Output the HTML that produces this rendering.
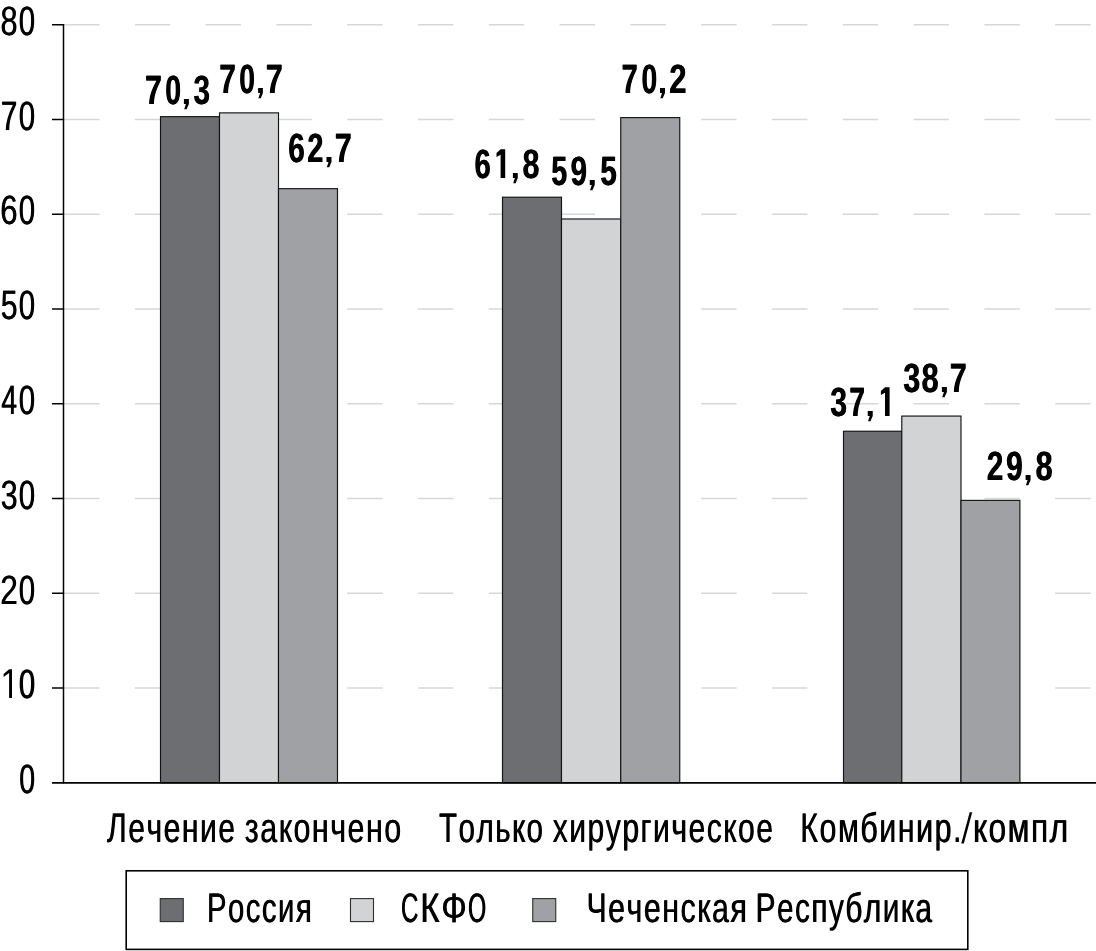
<!DOCTYPE html>
<html><head><meta charset="utf-8"><title>chart</title>
<style>
html,body{margin:0;padding:0;background:#fff;}
body{width:1096px;height:951px;overflow:hidden;}
svg{display:block;}
text{font-family:"Liberation Sans",sans-serif;font-kerning:none;text-rendering:geometricPrecision;}
</style></head><body>
<svg width="1096" height="951" viewBox="0 0 1096 951">
<rect width="1096" height="951" fill="#fff"/>
<g opacity="0.999">
<line x1="64" x2="1096" y1="688.00" y2="688.00" stroke="#d6d7d9" stroke-width="1.4" stroke-dasharray="35.4 35.4"/>
<line x1="64" x2="1096" y1="593.25" y2="593.25" stroke="#d6d7d9" stroke-width="1.4" stroke-dasharray="35.4 35.4"/>
<line x1="64" x2="1096" y1="498.50" y2="498.50" stroke="#d6d7d9" stroke-width="1.4" stroke-dasharray="35.4 35.4"/>
<line x1="64" x2="1096" y1="403.75" y2="403.75" stroke="#d6d7d9" stroke-width="1.4" stroke-dasharray="35.4 35.4"/>
<line x1="64" x2="1096" y1="309.00" y2="309.00" stroke="#d6d7d9" stroke-width="1.4" stroke-dasharray="35.4 35.4"/>
<line x1="64" x2="1096" y1="214.25" y2="214.25" stroke="#d6d7d9" stroke-width="1.4" stroke-dasharray="35.4 35.4"/>
<line x1="64" x2="1096" y1="119.50" y2="119.50" stroke="#d6d7d9" stroke-width="1.4" stroke-dasharray="35.4 35.4"/>
<line x1="64" x2="1096" y1="24.75" y2="24.75" stroke="#d6d7d9" stroke-width="1.4" stroke-dasharray="35.4 35.4"/>
<rect x="160.50" y="116.66" width="59.00" height="666.09" fill="#6d6e71" stroke="#141414" stroke-width="1.15"/>
<rect x="219.50" y="112.87" width="59.00" height="669.88" fill="#d1d3d4" stroke="#141414" stroke-width="1.15"/>
<rect x="278.50" y="188.67" width="59.00" height="594.08" fill="#a0a1a4" stroke="#141414" stroke-width="1.15"/>
<rect x="502.50" y="197.20" width="59.00" height="585.55" fill="#6d6e71" stroke="#141414" stroke-width="1.15"/>
<rect x="561.50" y="218.99" width="59.25" height="563.76" fill="#d1d3d4" stroke="#141414" stroke-width="1.15"/>
<rect x="620.75" y="117.61" width="59.00" height="665.14" fill="#a0a1a4" stroke="#141414" stroke-width="1.15"/>
<rect x="843.50" y="431.23" width="58.30" height="351.52" fill="#6d6e71" stroke="#141414" stroke-width="1.15"/>
<rect x="901.80" y="416.07" width="59.20" height="366.68" fill="#d1d3d4" stroke="#141414" stroke-width="1.15"/>
<rect x="961.00" y="500.39" width="58.90" height="282.36" fill="#a0a1a4" stroke="#141414" stroke-width="1.15"/>
<line x1="63.5" x2="63.5" y1="24" y2="783.55" stroke="#000" stroke-width="1.5"/>
<line x1="52" x2="1096" y1="782.90" y2="782.90" stroke="#000" stroke-width="1.8"/>
<line x1="52" x2="63.5" y1="688.00" y2="688.00" stroke="#000" stroke-width="1.5"/>
<line x1="52" x2="63.5" y1="593.25" y2="593.25" stroke="#000" stroke-width="1.5"/>
<line x1="52" x2="63.5" y1="498.50" y2="498.50" stroke="#000" stroke-width="1.5"/>
<line x1="52" x2="63.5" y1="403.75" y2="403.75" stroke="#000" stroke-width="1.5"/>
<line x1="52" x2="63.5" y1="309.00" y2="309.00" stroke="#000" stroke-width="1.5"/>
<line x1="52" x2="63.5" y1="214.25" y2="214.25" stroke="#000" stroke-width="1.5"/>
<line x1="52" x2="63.5" y1="119.50" y2="119.50" stroke="#000" stroke-width="1.5"/>
<line x1="52" x2="63.5" y1="24.75" y2="24.75" stroke="#000" stroke-width="1.5"/>
<text transform="translate(18.89 793.00) scale(0.6939 1)" font-size="41.00" font-weight="normal" fill="#000">0</text>
<text transform="translate(19.49 793.00) scale(0.6939 1)" font-size="41.00" font-weight="normal" fill="#000">0</text>
<path d="M12.00 669.30L12.00 698.00L9.10 698.00L9.10 672.90L3.60 676.90L3.60 673.90L9.10 669.30Z" fill="#000"/>
<text transform="translate(18.56 698.00) scale(0.7143 1)" font-size="41.00" font-weight="normal" fill="#000">0</text>
<text transform="translate(19.16 698.00) scale(0.7143 1)" font-size="41.00" font-weight="normal" fill="#000">0</text>
<text transform="translate(0.01 604.00) scale(0.7710 1)" font-size="41.00" font-weight="normal" fill="#000">2</text>
<text transform="translate(0.61 604.00) scale(0.7710 1)" font-size="41.00" font-weight="normal" fill="#000">2</text>
<text transform="translate(18.45 604.00) scale(0.7169 1)" font-size="41.00" font-weight="normal" fill="#000">0</text>
<text transform="translate(19.05 604.00) scale(0.7169 1)" font-size="41.00" font-weight="normal" fill="#000">0</text>
<text transform="translate(0.44 509.00) scale(0.7408 1)" font-size="41.00" font-weight="normal" fill="#000">3</text>
<text transform="translate(1.04 509.00) scale(0.7408 1)" font-size="41.00" font-weight="normal" fill="#000">3</text>
<text transform="translate(18.45 509.00) scale(0.7169 1)" font-size="41.00" font-weight="normal" fill="#000">0</text>
<text transform="translate(19.05 509.00) scale(0.7169 1)" font-size="41.00" font-weight="normal" fill="#000">0</text>
<text transform="translate(0.94 414.00) scale(0.6970 1)" font-size="41.00" font-weight="normal" fill="#000">4</text>
<text transform="translate(1.54 414.00) scale(0.6970 1)" font-size="41.00" font-weight="normal" fill="#000">4</text>
<text transform="translate(18.45 414.00) scale(0.7169 1)" font-size="41.00" font-weight="normal" fill="#000">0</text>
<text transform="translate(19.05 414.00) scale(0.7169 1)" font-size="41.00" font-weight="normal" fill="#000">0</text>
<text transform="translate(0.38 319.00) scale(0.7408 1)" font-size="41.00" font-weight="normal" fill="#000">5</text>
<text transform="translate(0.98 319.00) scale(0.7408 1)" font-size="41.00" font-weight="normal" fill="#000">5</text>
<text transform="translate(18.45 319.00) scale(0.7169 1)" font-size="41.00" font-weight="normal" fill="#000">0</text>
<text transform="translate(19.05 319.00) scale(0.7169 1)" font-size="41.00" font-weight="normal" fill="#000">0</text>
<text transform="translate(0.02 224.00) scale(0.7612 1)" font-size="41.00" font-weight="normal" fill="#000">6</text>
<text transform="translate(0.62 224.00) scale(0.7612 1)" font-size="41.00" font-weight="normal" fill="#000">6</text>
<text transform="translate(18.45 224.00) scale(0.7169 1)" font-size="41.00" font-weight="normal" fill="#000">0</text>
<text transform="translate(19.05 224.00) scale(0.7169 1)" font-size="41.00" font-weight="normal" fill="#000">0</text>
<text transform="translate(0.59 130.00) scale(0.7190 1)" font-size="41.00" font-weight="normal" fill="#000">7</text>
<text transform="translate(1.19 130.00) scale(0.7190 1)" font-size="41.00" font-weight="normal" fill="#000">7</text>
<text transform="translate(18.45 130.00) scale(0.7169 1)" font-size="41.00" font-weight="normal" fill="#000">0</text>
<text transform="translate(19.05 130.00) scale(0.7169 1)" font-size="41.00" font-weight="normal" fill="#000">0</text>
<text transform="translate(0.27 35.00) scale(0.7485 1)" font-size="41.00" font-weight="normal" fill="#000">8</text>
<text transform="translate(0.87 35.00) scale(0.7485 1)" font-size="41.00" font-weight="normal" fill="#000">8</text>
<text transform="translate(18.45 35.00) scale(0.7169 1)" font-size="41.00" font-weight="normal" fill="#000">0</text>
<text transform="translate(19.05 35.00) scale(0.7169 1)" font-size="41.00" font-weight="normal" fill="#000">0</text>
<text transform="translate(144.69 104.00) scale(0.7433 1)" font-size="41.00" font-weight="bold" fill="#000">7</text>
<text transform="translate(145.29 104.00) scale(0.7433 1)" font-size="41.00" font-weight="bold" fill="#000">7</text>
<text transform="translate(164.88 104.00) scale(0.6923 1)" font-size="41.00" font-weight="bold" fill="#000">0</text>
<text transform="translate(165.48 104.00) scale(0.6923 1)" font-size="41.00" font-weight="bold" fill="#000">0</text>
<path d="M183.90 98.90L188.90 98.90L188.90 104.00L186.60 109.30L184.20 109.30L185.90 104.00L183.90 104.00Z" fill="#000"/>
<text transform="translate(193.22 104.00) scale(0.7238 1)" font-size="41.00" font-weight="bold" fill="#000">3</text>
<text transform="translate(193.82 104.00) scale(0.7238 1)" font-size="41.00" font-weight="bold" fill="#000">3</text>
<text transform="translate(218.96 93.00) scale(0.7303 1)" font-size="41.00" font-weight="bold" fill="#000">7</text>
<text transform="translate(219.56 93.00) scale(0.7303 1)" font-size="41.00" font-weight="bold" fill="#000">7</text>
<text transform="translate(238.89 93.00) scale(0.6872 1)" font-size="41.00" font-weight="bold" fill="#000">0</text>
<text transform="translate(239.49 93.00) scale(0.6872 1)" font-size="41.00" font-weight="bold" fill="#000">0</text>
<path d="M258.10 87.90L262.90 87.90L262.90 93.00L260.80 98.30L258.40 98.30L260.10 93.00L258.10 93.00Z" fill="#000"/>
<text transform="translate(265.43 93.00) scale(0.7485 1)" font-size="41.00" font-weight="bold" fill="#000">7</text>
<text transform="translate(266.03 93.00) scale(0.7485 1)" font-size="41.00" font-weight="bold" fill="#000">7</text>
<text transform="translate(287.91 162.00) scale(0.7266 1)" font-size="41.00" font-weight="bold" fill="#000">6</text>
<text transform="translate(288.51 162.00) scale(0.7266 1)" font-size="41.00" font-weight="bold" fill="#000">6</text>
<text transform="translate(307.11 162.00) scale(0.6991 1)" font-size="41.00" font-weight="bold" fill="#000">2</text>
<text transform="translate(307.71 162.00) scale(0.6991 1)" font-size="41.00" font-weight="bold" fill="#000">2</text>
<path d="M326.50 156.90L331.50 156.90L331.50 162.00L329.20 167.30L326.80 167.30L328.50 162.00L326.50 162.00Z" fill="#000"/>
<text transform="translate(334.43 162.00) scale(0.7485 1)" font-size="41.00" font-weight="bold" fill="#000">7</text>
<text transform="translate(335.03 162.00) scale(0.7485 1)" font-size="41.00" font-weight="bold" fill="#000">7</text>
<text transform="translate(474.18 178.00) scale(0.7139 1)" font-size="41.00" font-weight="bold" fill="#000">6</text>
<text transform="translate(474.78 178.00) scale(0.7139 1)" font-size="41.00" font-weight="bold" fill="#000">6</text>
<path d="M505.20 149.30L505.20 178.00L500.60 178.00L500.60 154.80L496.50 157.10L496.50 153.00L500.60 149.30Z" fill="#000"/>
<path d="M512.90 172.90L517.75 172.90L517.75 178.00L515.60 183.30L513.20 183.30L514.90 178.00L512.90 178.00Z" fill="#000"/>
<text transform="translate(522.13 178.00) scale(0.7436 1)" font-size="41.00" font-weight="bold" fill="#000">8</text>
<text transform="translate(522.73 178.00) scale(0.7436 1)" font-size="41.00" font-weight="bold" fill="#000">8</text>
<text transform="translate(551.03 185.00) scale(0.6912 1)" font-size="41.00" font-weight="bold" fill="#000">5</text>
<text transform="translate(551.63 185.00) scale(0.6912 1)" font-size="41.00" font-weight="bold" fill="#000">5</text>
<text transform="translate(570.22 185.00) scale(0.7251 1)" font-size="41.00" font-weight="bold" fill="#000">9</text>
<text transform="translate(570.82 185.00) scale(0.7251 1)" font-size="41.00" font-weight="bold" fill="#000">9</text>
<path d="M589.75 179.90L594.75 179.90L594.75 185.00L592.45 190.30L590.05 190.30L591.75 185.00L589.75 185.00Z" fill="#000"/>
<text transform="translate(600.09 185.00) scale(0.7181 1)" font-size="41.00" font-weight="bold" fill="#000">5</text>
<text transform="translate(600.69 185.00) scale(0.7181 1)" font-size="41.00" font-weight="bold" fill="#000">5</text>
<text transform="translate(621.14 93.00) scale(0.7147 1)" font-size="41.00" font-weight="bold" fill="#000">7</text>
<text transform="translate(621.74 93.00) scale(0.7147 1)" font-size="41.00" font-weight="bold" fill="#000">7</text>
<text transform="translate(641.14 93.00) scale(0.6872 1)" font-size="41.00" font-weight="bold" fill="#000">0</text>
<text transform="translate(641.74 93.00) scale(0.6872 1)" font-size="41.00" font-weight="bold" fill="#000">0</text>
<path d="M660.00 87.90L665.00 87.90L665.00 93.00L662.70 98.30L660.30 98.30L662.00 93.00L660.00 93.00Z" fill="#000"/>
<text transform="translate(668.92 93.00) scale(0.7599 1)" font-size="41.00" font-weight="bold" fill="#000">2</text>
<text transform="translate(669.52 93.00) scale(0.7599 1)" font-size="41.00" font-weight="bold" fill="#000">2</text>
<text transform="translate(829.91 416.00) scale(0.7385 1)" font-size="41.00" font-weight="bold" fill="#000">3</text>
<text transform="translate(830.51 416.00) scale(0.7385 1)" font-size="41.00" font-weight="bold" fill="#000">3</text>
<text transform="translate(849.05 416.00) scale(0.6783 1)" font-size="41.00" font-weight="bold" fill="#000">7</text>
<text transform="translate(849.65 416.00) scale(0.6783 1)" font-size="41.00" font-weight="bold" fill="#000">7</text>
<path d="M867.75 410.90L872.75 410.90L872.75 416.00L870.45 421.30L868.05 421.30L869.75 416.00L867.75 416.00Z" fill="#000"/>
<path d="M889.60 387.30L889.60 416.00L885.00 416.00L885.00 392.80L880.90 395.10L880.90 391.00L885.00 387.30Z" fill="#000"/>
<text transform="translate(903.06 392.00) scale(0.7385 1)" font-size="41.00" font-weight="bold" fill="#000">3</text>
<text transform="translate(903.66 392.00) scale(0.7385 1)" font-size="41.00" font-weight="bold" fill="#000">3</text>
<text transform="translate(921.27 392.00) scale(0.7535 1)" font-size="41.00" font-weight="bold" fill="#000">8</text>
<text transform="translate(921.87 392.00) scale(0.7535 1)" font-size="41.00" font-weight="bold" fill="#000">8</text>
<path d="M941.90 386.90L946.90 386.90L946.90 392.00L944.60 397.30L942.20 397.30L943.90 392.00L941.90 392.00Z" fill="#000"/>
<text transform="translate(949.43 392.00) scale(0.7485 1)" font-size="41.00" font-weight="bold" fill="#000">7</text>
<text transform="translate(950.03 392.00) scale(0.7485 1)" font-size="41.00" font-weight="bold" fill="#000">7</text>
<text transform="translate(986.46 480.00) scale(0.7295 1)" font-size="41.00" font-weight="bold" fill="#000">2</text>
<text transform="translate(987.06 480.00) scale(0.7295 1)" font-size="41.00" font-weight="bold" fill="#000">2</text>
<text transform="translate(1005.87 480.00) scale(0.7251 1)" font-size="41.00" font-weight="bold" fill="#000">9</text>
<text transform="translate(1006.47 480.00) scale(0.7251 1)" font-size="41.00" font-weight="bold" fill="#000">9</text>
<path d="M1025.60 474.90L1030.60 474.90L1030.60 480.00L1028.30 485.30L1025.90 485.30L1027.60 480.00L1025.60 480.00Z" fill="#000"/>
<text transform="translate(1035.28 480.00) scale(0.7436 1)" font-size="41.00" font-weight="bold" fill="#000">8</text>
<text transform="translate(1035.88 480.00) scale(0.7436 1)" font-size="41.00" font-weight="bold" fill="#000">8</text>
<text transform="translate(106.64 842.00) scale(0.7289 1)" font-size="41.30" font-weight="normal" fill="#000" letter-spacing="2.058">Лечение</text>
<text transform="translate(107.24 842.00) scale(0.7289 1)" font-size="41.30" font-weight="normal" fill="#000" letter-spacing="2.058">Лечение</text>
<text transform="translate(244.52 842.00) scale(0.7367 1)" font-size="41.30" font-weight="normal" fill="#000" letter-spacing="2.036">закончено</text>
<text transform="translate(245.12 842.00) scale(0.7367 1)" font-size="41.30" font-weight="normal" fill="#000" letter-spacing="2.036">закончено</text>
<text transform="translate(438.74 842.00) scale(0.7149 1)" font-size="41.30" font-weight="normal" fill="#000" letter-spacing="2.098">Только</text>
<text transform="translate(439.34 842.00) scale(0.7149 1)" font-size="41.30" font-weight="normal" fill="#000" letter-spacing="2.098">Только</text>
<text transform="translate(552.41 842.00) scale(0.7285 1)" font-size="41.30" font-weight="normal" fill="#000" letter-spacing="2.059">хирургическое</text>
<text transform="translate(553.01 842.00) scale(0.7285 1)" font-size="41.30" font-weight="normal" fill="#000" letter-spacing="2.059">хирургическое</text>
<text transform="translate(800.00 842.00) scale(0.7368 1)" font-size="41.30" font-weight="normal" fill="#000" letter-spacing="2.036">Комбинир.</text>
<text transform="translate(800.60 842.00) scale(0.7368 1)" font-size="41.30" font-weight="normal" fill="#000" letter-spacing="2.036">Комбинир.</text>
<text transform="translate(972.86 842.00) scale(0.7678 1)" font-size="41.30" font-weight="normal" fill="#000" letter-spacing="1.954">компл</text>
<text transform="translate(973.46 842.00) scale(0.7678 1)" font-size="41.30" font-weight="normal" fill="#000" letter-spacing="1.954">компл</text>
<path d="M961.25 843.5L969.7 812.25L972.25 812.25L963.8 843.5Z" fill="#000"/>
<rect x="126.2" y="870.8" width="841.6" height="78.6" fill="#fff" stroke="#000" stroke-width="1.6"/>
<rect x="160.25" y="898.6" width="23" height="23" fill="#6d6e71" stroke="#2e2e30" stroke-width="1.1"/>
<rect x="350.5" y="898.6" width="23" height="23" fill="#d1d3d4" stroke="#2e2e30" stroke-width="1.1"/>
<rect x="532.75" y="898.6" width="23" height="23" fill="#a0a1a4" stroke="#2e2e30" stroke-width="1.1"/>
<text transform="translate(206.70 922.00) scale(0.7084 1)" font-size="41.30" font-weight="normal" fill="#000" letter-spacing="2.117">Россия</text>
<text transform="translate(207.30 922.00) scale(0.7084 1)" font-size="41.30" font-weight="normal" fill="#000" letter-spacing="2.117">Россия</text>
<text transform="translate(400.67 922.00) scale(0.5850 1)" font-size="41.30" font-weight="normal" fill="#000" letter-spacing="2.564">С</text>
<text transform="translate(401.27 922.00) scale(0.5850 1)" font-size="41.30" font-weight="normal" fill="#000" letter-spacing="2.564">С</text>
<text transform="translate(420.10 922.00) scale(0.7979 1)" font-size="41.30" font-weight="normal" fill="#000" letter-spacing="1.880">К</text>
<text transform="translate(420.70 922.00) scale(0.7979 1)" font-size="41.30" font-weight="normal" fill="#000" letter-spacing="1.880">К</text>
<text transform="translate(440.96 922.00) scale(0.8146 1)" font-size="41.30" font-weight="normal" fill="#000" letter-spacing="1.841">Ф</text>
<text transform="translate(441.56 922.00) scale(0.8146 1)" font-size="41.30" font-weight="normal" fill="#000" letter-spacing="1.841">Ф</text>
<text transform="translate(467.80 922.00) scale(0.5604 1)" font-size="41.30" font-weight="normal" fill="#000" letter-spacing="2.676">О</text>
<text transform="translate(468.40 922.00) scale(0.5604 1)" font-size="41.30" font-weight="normal" fill="#000" letter-spacing="2.676">О</text>
<text transform="translate(586.13 922.00) scale(0.7351 1)" font-size="41.30" font-weight="normal" fill="#000" letter-spacing="2.040">Чеченская</text>
<text transform="translate(586.73 922.00) scale(0.7351 1)" font-size="41.30" font-weight="normal" fill="#000" letter-spacing="2.040">Чеченская</text>
<text transform="translate(755.31 922.00) scale(0.7204 1)" font-size="41.30" font-weight="normal" fill="#000" letter-spacing="2.082">Республика</text>
<text transform="translate(755.91 922.00) scale(0.7204 1)" font-size="41.30" font-weight="normal" fill="#000" letter-spacing="2.082">Республика</text>
</g>
</svg>
</body></html>
